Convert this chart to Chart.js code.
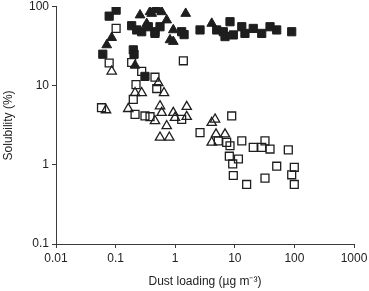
<!DOCTYPE html>
<html>
<head>
<meta charset="utf-8">
<script src="https://cdn.jsdelivr.net/npm/chart.js@4.4.0/dist/chart.umd.min.js"></script>
<style>
  html, body { margin: 0; padding: 0; background: #fff; }
  #wrap { width: 369px; height: 291px; position: relative; }
</style>
</head>
<body>
<div id="wrap"><canvas id="c" width="369" height="291"></canvas></div>
<script>
// Axis ticks
const xTickValues = [0.01, 0.1, 1, 10, 100, 1000];
const xTickLabels = ['0.01', '0.1', '1', '10', '100', '1000'];
const yTickValues = [0.1, 1, 10, 100];
const yTickLabels = ['0.1', '1', '10', '100'];

// Filled squares
const filledSquareX = [0.078, 0.102, 0.061, 0.198, 0.204, 0.311, 0.186, 0.274, 0.458, 0.556, 1.285, 2.61, 0.226, 0.354, 0.458, 1.41, 4.97, 6.41, 6.85, 8.31, 9.44, 13.1, 14.8, 20.4, 28.3, 39.0, 50.5, 90.1];
const filledSquareY = [76.4, 91, 25.2, 28.6, 25.2, 13.2, 57.8, 48.5, 48.5, 56.1, 48.5, 51.1, 51.1, 56.1, 46.2, 44.6, 51.1, 48.5, 42.1, 64.9, 44.2, 56.1, 46.2, 53.4, 46.2, 56.1, 51.1, 48.5];

// Filled triangles
const filledTriangleX = [0.086, 0.071, 0.212, 0.257, 0.378, 0.458, 0.52, 0.593, 0.72, 0.929, 0.818, 0.929, 1.50, 0.403, 4.10, 0.333];
const filledTriangleY = [40.8, 33.0, 18.2, 78.8, 86.5, 95.2, 91, 86.5, 68.1, 51.1, 38.2, 36.4, 82.4, 82.4, 61.7, 61.3];

// Open squares
const openSquareX = [0.102, 0.078, 0.186, 0.274, 0.458, 1.37, 0.22, 0.49, 0.058, 0.198, 0.212, 0.311, 0.378, 1.285, 8.87, 2.61, 5.28, 7.31, 8.31, 13.1, 20.4, 28.3, 39.0, 32.1, 79.0, 8.09, 11.5, 9.22, 9.44, 15.8, 32.1, 50.5, 99.6, 90.1, 99.6];
const openSquareY = [53.4, 19.5, 19.8, 15.3, 12.9, 20.8, 10.4, 9.27, 5.30, 6.75, 4.37, 4.17, 4.08, 3.78, 4.17, 2.57, 2.02, 1.93, 1.75, 2.02, 1.67, 1.67, 1.59, 2.02, 1.55, 1.29, 1.19, 1.03, 0.736, 0.567, 0.681, 0.964, 0.935, 0.751, 0.567];

// Open triangles
const openTriangleX = [0.086, 0.52, 0.649, 0.069, 0.212, 0.274, 0.163, 0.556, 0.593, 0.458, 0.72, 0.556, 0.796, 0.929, 0.993, 1.56, 1.56, 4.10, 4.66, 4.84, 4.10, 6.85];
const openTriangleY = [15.3, 10.9, 8.17, 4.95, 8.17, 8.17, 5.14, 5.56, 4.58, 3.61, 3.12, 2.23, 2.23, 4.58, 3.96, 5.46, 4.08, 3.43, 3.78, 2.45, 1.93, 2.45];

const ink = '#1e1e1e';
const axisColor = '#3a3a3a';
const fontFamily = '"Liberation Sans", Arial, Helvetica, sans-serif';

function pts(xs, ys) { return xs.map((x, i) => ({ x: x, y: ys[i] })); }

const datasets = [
  { label: 'open squares', data: pts(openSquareX, openSquareY), pointStyle: 'rect', pointRadius: 5.6, backgroundColor: 'rgba(0,0,0,0)', borderColor: ink, borderWidth: 1.3 },
  { label: 'open triangles', data: pts(openTriangleX, openTriangleY), pointStyle: 'triangle', pointRadius: 5.4, backgroundColor: 'rgba(0,0,0,0)', borderColor: ink, borderWidth: 1.3 },
  { label: 'filled squares', data: pts(filledSquareX, filledSquareY), pointStyle: 'rect', pointRadius: 5.8, backgroundColor: ink, borderColor: ink, borderWidth: 1 },
  { label: 'filled triangles', data: pts(filledTriangleX, filledTriangleY), pointStyle: 'triangle', pointRadius: 5.6, backgroundColor: ink, borderColor: ink, borderWidth: 1 }
];

function fixTicks(values) {
  return function (scale) { scale.ticks = values.map(v => ({ value: v })); };
}

new Chart(document.getElementById('c'), {
  type: 'scatter',
  data: { datasets: datasets },
  options: {
    responsive: false,
    animation: false,
    devicePixelRatio: 1,
    layout: { padding: { left: 0, right: 15, top: 5, bottom: 0 } },
    plugins: { legend: { display: false }, tooltip: { enabled: false } },
    scales: {
      x: {
        type: 'logarithmic',
        min: 0.01, max: 1000,
        afterBuildTicks: fixTicks(xTickValues),
        afterFit: function (s) { s.height = 47; s.paddingLeft = 0; s.paddingRight = 0; },
        grid: { drawOnChartArea: false, drawTicks: true, tickLength: 4, color: axisColor, lineWidth: 1 },
        border: { display: true, color: axisColor, width: 1 },
        ticks: {
          autoSkip: false, maxRotation: 0, padding: 3, color: '#222',
          font: { family: fontFamily, size: 12 },
          callback: function (v) { const i = xTickValues.indexOf(v); return i >= 0 ? xTickLabels[i] : ''; }
        },
        title: { display: true, text: 'Dust loading (\u00b5g m\u207b\u00b3)', color: '#222', font: { family: fontFamily, size: 12 }, padding: { top: 0, bottom: 2 } }
      },
      y: {
        type: 'logarithmic',
        min: 0.1, max: 100,
        afterBuildTicks: fixTicks(yTickValues),
        afterFit: function (s) { s.width = 56; s.paddingTop = 0; s.paddingBottom = 0; },
        grid: { drawOnChartArea: false, drawTicks: true, tickLength: 4, color: axisColor, lineWidth: 1 },
        border: { display: true, color: axisColor, width: 1 },
        ticks: {
          autoSkip: false, padding: 3, color: '#222',
          font: { family: fontFamily, size: 12 },
          callback: function (v) { const i = yTickValues.indexOf(v); return i >= 0 ? yTickLabels[i] : ''; }
        },
        title: { display: true, text: 'Solubility (%)', color: '#222', font: { family: fontFamily, size: 12 }, padding: { top: 1, bottom: 0 } }
      }
    }
  }
});
</script>
</body>
</html>
